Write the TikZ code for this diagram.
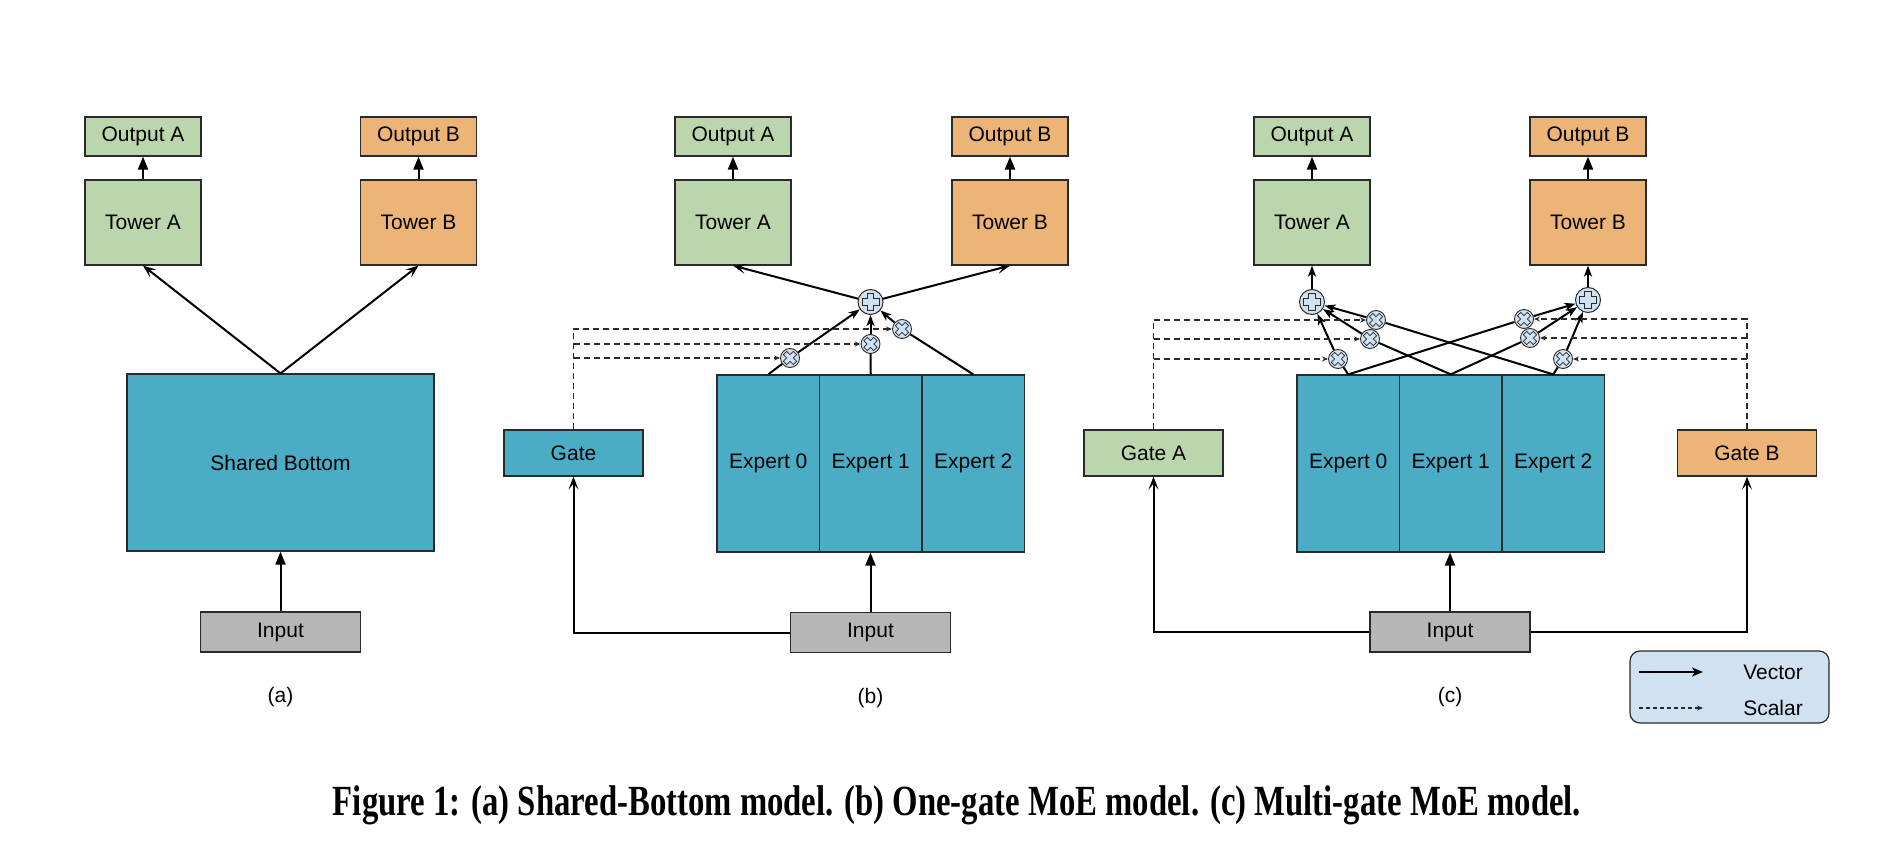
\documentclass[tikz,border=0pt]{standalone}
\usepackage{graphicx}
\usepackage{fontspec}
\setmainfont{Liberation Sans}
\newfontfamily\capfont{Liberation Serif}
\usetikzlibrary{arrows.meta,calc}
\definecolor{cgreen}{HTML}{BBD6AC}
\definecolor{corange}{HTML}{ECB477}
\definecolor{cblue}{HTML}{4BACC6}
\definecolor{cgray}{HTML}{B7B7B7}
\definecolor{clight}{HTML}{D0E2F2}
\definecolor{cline}{HTML}{2A2A2A}
\begin{document}
\begin{tikzpicture}[x=1pt,y=-1pt,
  txt/.style={font=\fontsize{21}{24}\selectfont},
  box/.style={draw=cline, line width=1.2pt, inner sep=0pt, txt},
  outbox/.style={box, minimum width=116pt, minimum height=39pt},
  towerbox/.style={box, minimum width=116pt, minimum height=85pt},
  expbox/.style={box, fill=cblue, minimum width=102.5pt, minimum height=177pt},
  gatebox/.style={box, minimum width=139pt, minimum height=46pt},
  inbox/.style={box, fill=cgray, minimum width=160pt, minimum height=40pt},
  plusnode/.style={circle, draw=cline, line width=1pt, fill=clight, minimum size=25pt, inner sep=0pt,
    path picture={\draw[cline, line width=0.9pt, fill=clight, shift={(path picture bounding box.center)}]
      (3.3,8.5)--(3.3,3.3)--(8.5,3.3)--(8.5,-3.3)--(3.3,-3.3)--(3.3,-8.5)--(-3.3,-8.5)--(-3.3,-3.3)--(-8.5,-3.3)--(-8.5,3.3)--(-3.3,3.3)--(-3.3,8.5)--cycle;}},
  multnode/.style={circle, draw=cline, line width=0.9pt, fill=clight, minimum size=19pt, inner sep=0pt,
    path picture={\draw[cline, line width=0.8pt, fill=clight, shift={(path picture bounding box.center)}]
      (-3.25,6.65)--(0,3.39)--(3.25,6.65)--(6.65,3.25)--(3.39,0)--(6.65,-3.25)--(3.25,-6.65)--(0,-3.39)--(-3.25,-6.65)--(-6.65,-3.25)--(-3.39,0)--(-6.65,3.25)--cycle;}},
  vecfill/.style={draw=black, line width=2pt, -{Triangle[length=13pt,width=10pt]}},
  vecopen/.style={draw=black, line width=2pt, -{Stealth[length=13pt,width=10pt,inset=6pt]}},
  vecplus/.style={draw=black, line width=2pt, -{Stealth[length=11pt,width=8pt,inset=3pt]}},
  vecplain/.style={draw=black, line width=2pt},
  scal/.style={draw=cline, line width=1.2pt, dash pattern=on 6pt off 4pt, -{Stealth[length=6pt,width=5pt]}},
  lbl/.style={txt}
]
\useasboundingbox (0,0) rectangle (1900,850);
\fill[white] (0,0) rectangle (1900,850);

% ---------- (a) ----------
\node[outbox, fill=cgreen] (outA1) at (143,136.5) {Output A};
\node[towerbox, fill=cgreen] (towA1) at (143,222.5) {Tower A};
\node[outbox, fill=corange] (outB1) at (418.5,136.5) {Output B};
\node[towerbox, fill=corange] (towB1) at (418.5,222.5) {Tower B};
\node[box, fill=cblue, minimum width=307pt, minimum height=177pt] (sb) at (280.5,462.5) {Shared Bottom};
\node[inbox] (in1) at (280.5,632) {Input};
\node[lbl] (la) at (280.5,697) {(a)};
\draw[vecfill] (towA1.north) -- (outA1.south);
\draw[vecfill] (towB1.north) -- (outB1.south);
\draw[vecopen] (sb.north) -- (towA1.south);
\draw[vecopen] (sb.north) -- (towB1.south);
\draw[vecfill] (in1.north) -- (sb.south);

% ---------- (b) ----------
\node[outbox, fill=cgreen] (outA2) at (733,136.5) {Output A};
\node[towerbox, fill=cgreen] (towA2) at (733,222.5) {Tower A};
\node[outbox, fill=corange] (outB2) at (1010,136.5) {Output B};
\node[towerbox, fill=corange] (towB2) at (1010,222.5) {Tower B};
\node[expbox] (e20) at (768.25,463.5) {Expert 0};
\node[expbox] (e21) at (870.75,463.5) {Expert 1};
\node[expbox] (e22) at (973.25,463.5) {Expert 2};
\node[gatebox, fill=cblue] (gate2) at (573.5,453) {Gate};
\node[inbox] (in2) at (870.5,632.5) {Input};
\node[lbl] (lb) at (870.5,698) {(b)};
\node[plusnode] (p2) at (870.5,302) {};
\node[multnode] (m20) at (790,358) {};
\node[multnode] (m21) at (870.5,344) {};
\node[multnode] (m22) at (902,329) {};
\draw[vecfill] (towA2.north) -- (outA2.south);
\draw[vecfill] (towB2.north) -- (outB2.south);
\draw[vecopen] (p2) -- (towA2.south);
\draw[vecopen] (p2) -- (towB2.south);
\draw[vecplain] (e20.north) -- (m20);
\draw[vecplus] (m20) -- (p2);
\draw[vecplain] (e21.north) -- (m21);
\draw[vecplus] (m21) -- (p2);
\draw[vecplain] (e22.north) -- (m22);
\draw[vecplus] (m22) -- (p2);
\draw[vecfill] (in2.north) -- (in2.north |- e21.south);
\draw[vecopen] (in2.west) -| (gate2.south);
\draw[scal] (gate2.north) |- (m22);
\draw[scal] (gate2.north |- m21) -- (m21);
\draw[scal] (gate2.north |- m20) -- (m20);

% ---------- (c) ----------
\node[outbox, fill=cgreen] (outA3) at (1312,136.5) {Output A};
\node[towerbox, fill=cgreen] (towA3) at (1312,222.5) {Tower A};
\node[outbox, fill=corange] (outB3) at (1588,136.5) {Output B};
\node[towerbox, fill=corange] (towB3) at (1588,222.5) {Tower B};
\node[expbox] (e30) at (1348.25,463.5) {Expert 0};
\node[expbox] (e31) at (1450.75,463.5) {Expert 1};
\node[expbox] (e32) at (1553.25,463.5) {Expert 2};
\node[gatebox, fill=cgreen] (gateA) at (1153.5,453) {Gate A};
\node[gatebox, fill=corange] (gateB) at (1747,453) {Gate B};
\node[inbox] (in3) at (1450,632) {Input};
\node[lbl] (lc) at (1450,697) {(c)};
\node[plusnode] (pA) at (1312,302) {};
\node[plusnode] (pB) at (1588,300) {};
\node[multnode] (mA0) at (1338,359) {};
\node[multnode] (mA1) at (1370,339) {};
\node[multnode] (mA2) at (1376,320) {};
\node[multnode] (mB0) at (1524,319) {};
\node[multnode] (mB1) at (1530,338) {};
\node[multnode] (mB2) at (1563,359) {};
\draw[vecfill] (towA3.north) -- (outA3.south);
\draw[vecfill] (towB3.north) -- (outB3.south);
\draw[vecplus] (pA) -- (towA3.south);
\draw[vecplus] (pB) -- (towB3.south);
\draw[vecplain] (e30.north) -- (mA0);
\draw[vecplus] (mA0) -- (pA);
\draw[vecplain] (e30.north) -- (mB0);
\draw[vecplus] (mB0) -- (pB);
\draw[vecplain] (e31.north) -- (mA1);
\draw[vecplus] (mA1) -- (pA);
\draw[vecplain] (e31.north) -- (mB1);
\draw[vecplus] (mB1) -- (pB);
\draw[vecplain] (e32.north) -- (mA2);
\draw[vecplus] (mA2) -- (pA);
\draw[vecplain] (e32.north) -- (mB2);
\draw[vecplus] (mB2) -- (pB);
\draw[vecfill] (in3.north) -- (in3.north |- e31.south);
\draw[vecopen] (in3.west) -| (gateA.south);
\draw[vecopen] (in3.east) -| (gateB.south);
\draw[scal] (gateA.north) |- (mA2);
\draw[scal] (gateA.north |- mA1) -- (mA1);
\draw[scal] (gateA.north |- mA0) -- (mA0);
\draw[scal] (gateB.north) |- (mB0);
\draw[scal] (gateB.north |- mB1) -- (mB1);
\draw[scal] (gateB.north |- mB2) -- (mB2);

% ---------- legend ----------
\node[draw=cline, fill=clight, rounded corners=10pt, line width=1.2pt, minimum width=199pt, minimum height=72pt, inner sep=0pt] (leg) at (1729.5,687) {};
\coordinate (v1) at (1639,672);
\coordinate (v2) at (1703,672);
\coordinate (s1) at (1639,708);
\coordinate (s2) at (1703,708);
\draw[draw=black, line width=2pt, -{Stealth[length=11pt,width=9pt,inset=3pt]}] (v1) -- (v2);
\draw[draw=cline, line width=1.1pt, dash pattern=on 4pt off 3pt, -{Stealth[length=6pt,width=5pt]}] (s1) -- (s2);
\node[txt] (vt) at (1773,672) {Vector};
\node[txt] (st) at (1773,708) {Scalar};

% ---------- caption ----------
\node[anchor=base, inner sep=0pt, font=\capfont\bfseries\fontsize{43}{48}\selectfont] (cap) at (957,815)
  {\resizebox{1248pt}{\height}{Figure 1: (a) Shared-Bottom model. (b) One-gate MoE model. (c) Multi-gate MoE model.}};
\end{tikzpicture}
\end{document}
